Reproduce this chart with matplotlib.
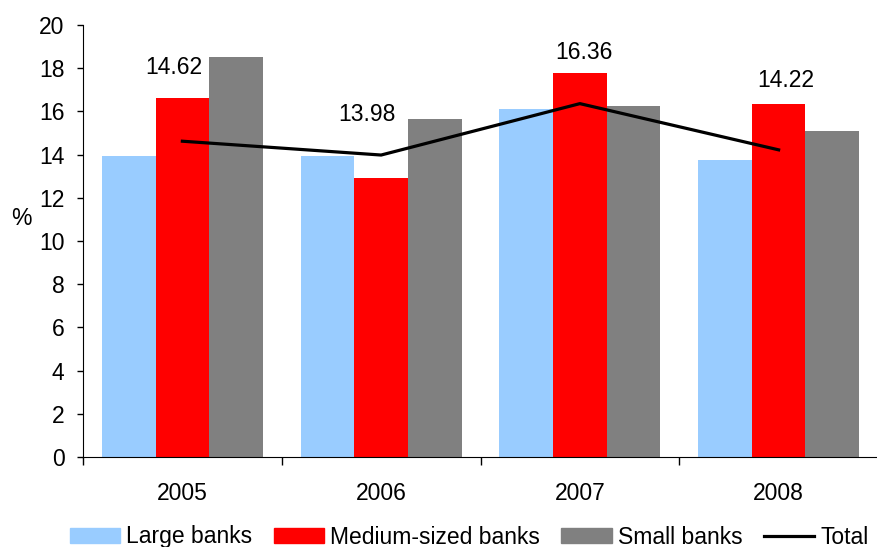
import numpy as np
import matplotlib
matplotlib.use("Agg")
import matplotlib.pyplot as plt
from matplotlib.lines import Line2D
from matplotlib.patches import Patch

plt.rcParams['font.family'] = ['Liberation Sans', 'DejaVu Sans']

years = ["2005", "2006", "2007", "2008"]
large = [13.95, 13.95, 16.1, 13.75]
medium = [16.6, 12.9, 17.8, 16.35]
small = [18.5, 15.65, 16.25, 15.1]
total = [14.62, 13.98, 16.36, 14.22]

# label offsets in points (dx, dy) relative to the total line points
label_offsets = [(-6, 53), (-10, 29), (3, 37), (5, 50)]

FS = 16.5

fig = plt.figure(figsize=(8.77, 5.47), dpi=100)
ax = fig.add_axes([83 / 877, 1 - 457 / 547, 795 / 877, 432 / 547])

x = np.arange(len(years))
w = 0.27
ax.bar(x - w, large, w, color="#99CCFF", label="Large banks")
ax.bar(x, medium, w, color="#FF0000", label="Medium-sized banks")
ax.bar(x + w, small, w, color="#808080", label="Small banks")
ax.plot(x, total, color="black", lw=2.3, label="Total", zorder=3)

for xi, v, (dx, dy) in zip(x, total, label_offsets):
    ax.annotate(f"{v:.2f}", (xi, v), xytext=(dx, dy), textcoords="offset points",
                ha="center", va="center", fontsize=FS)

ax.set_xlim(-0.5, len(years) - 0.5)
ax.set_ylim(0, 20)
ax.set_yticks(range(0, 21, 2))
ax.set_xticks(x)
ax.set_xticklabels(years)
ax.set_xticks(np.arange(-0.5, len(years), 1.0), minor=True)
ax.tick_params(axis="x", which="major", length=0, pad=18, labelsize=FS)
ax.tick_params(axis="x", which="minor", length=5.8, width=1)
ax.tick_params(axis="y", length=4.3, width=1, labelsize=FS, pad=9)
for s in ("top", "right"):
    ax.spines[s].set_visible(False)

ax.set_ylabel("%", rotation=0, fontsize=FS, va="center", ha="center")
ax.yaxis.set_label_coords(-0.077, 0.553)

handles = [Patch(color="#99CCFF"), Patch(color="#FF0000"), Patch(color="#808080"),
           Line2D([0], [0], color="black", lw=2.3)]
labels = ["Large banks", "Medium-sized banks", "Small banks", "Total"]
fig.legend(handles, labels, loc="center", bbox_to_anchor=(469 / 877, 1 - 537 / 547),
           ncol=4, frameon=False, fontsize=FS, handlelength=2.2, handleheight=0.65,
           handletextpad=0.25, columnspacing=0.95, borderpad=0)

fig.savefig("out.png", dpi=100)
